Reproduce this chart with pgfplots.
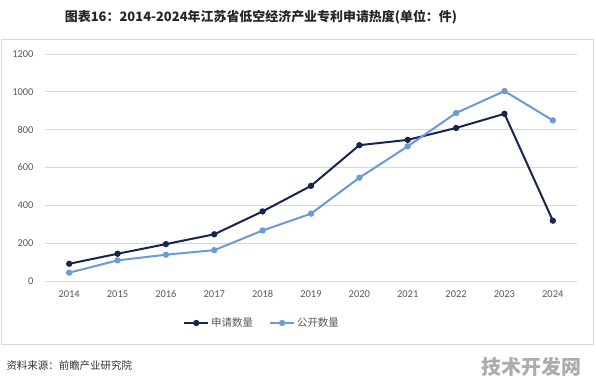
\documentclass[border=0pt]{standalone}
\usepackage{pgfplots}
\pgfplotsset{compat=1.18}
\usepackage{fontspec}
\setmainfont{Carlito}
\newfontfamily\cjk{Noto Sans CJK SC}
\definecolor{dk}{RGB}{24,38,78}
\definecolor{lt}{RGB}{106,155,214}
\definecolor{gridc}{RGB}{217,217,217}
\definecolor{txt}{RGB}{89,89,89}
\begin{document}
\begin{tikzpicture}[x=1bp,y=1bp]
\useasboundingbox (0,0) rectangle (596,384);
\fill[white] (0,0) rectangle (596,384);
\draw[gridc, line width=0.8bp] (1.5,40) rectangle (593,345);
\node[font=\cjk\bfseries\fontsize{13}{15}\selectfont, text=black!85] at (261,367) {图表16：2014-2024年江苏省低空经济产业专利申请热度(单位：件)};
\node[anchor=west, font=\cjk\fontsize{10.5}{12}\selectfont, text=black!80] at (3,18) {资料来源：前瞻产业研究院};
\node[anchor=east, font=\cjk\bfseries\fontsize{20}{22}\selectfont, text=gray!65] at (585,17) {技术开发网};
\begin{axis}[
  at={(45bp,103bp)}, anchor=south west,
  scale only axis, width=532bp, height=227bp,
  xmin=2013.5, xmax=2024.5, ymin=0, ymax=1200,
  xtick={2014,...,2024}, ytick={0,200,...,1200},
  /pgf/number format/1000 sep={},
  /pgf/number format/assume math mode=true,
  ymajorgrids, grid style={gridc, line width=0.8bp},
  axis line style={draw=none}, major tick length=0pt,
  tick label style={font=\fontsize{10.5}{12}\selectfont, text=txt},
  yticklabel style={xshift=-8bp},
  xticklabel style={yshift=-6bp},
  clip=false,
  legend columns=2,
  legend style={draw=none, fill=none, at={(0.408,-0.185)}, anchor=center,
    font=\cjk\fontsize{10.5}{12}\selectfont, text=txt,
    /tikz/every even column/.append style={column sep=14bp}},
  legend image code/.code={\draw[#1, mark repeat=2, mark phase=2] plot coordinates {(0bp,0bp) (12bp,0bp) (24bp,0bp)};},
]
\addplot[dk, line width=2bp, mark=*, mark size=2.1bp] coordinates {
(2014,91) (2015,144) (2016,195) (2017,247) (2018,368) (2019,503) (2020,718) (2021,746) (2022,809) (2023,884) (2024,319)};
\addlegendentry{申请数量}
\addplot[lt, line width=2bp, mark=*, mark size=2.1bp] coordinates {
(2014,44) (2015,109) (2016,139) (2017,163) (2018,267) (2019,356) (2020,546) (2021,712) (2022,888) (2023,1004) (2024,849)};
\addlegendentry{公开数量}
\end{axis}
\end{tikzpicture}
\end{document}
